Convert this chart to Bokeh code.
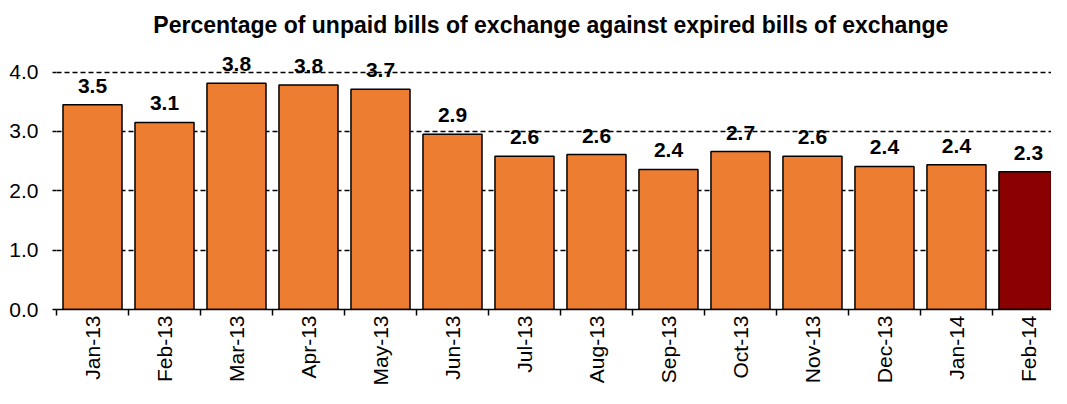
import math
from bokeh.plotting import figure
from bokeh.models import Range1d, FixedTicker, NumeralTickFormatter, ColumnDataSource
from bokeh.core.properties import value
from bokeh.embed import file_html
from bokeh.resources import INLINE

months = ["Jan-13", "Feb-13", "Mar-13", "Apr-13", "May-13", "Jun-13", "Jul-13",
          "Aug-13", "Sep-13", "Oct-13", "Nov-13", "Dec-13", "Jan-14", "Feb-14"]
values = [3.45, 3.15, 3.81, 3.78, 3.71, 2.95, 2.58, 2.61, 2.36, 2.66, 2.58, 2.41, 2.44, 2.32]
labels = ["3.5", "3.1", "3.8", "3.8", "3.7", "2.9", "2.6", "2.6", "2.4", "2.7", "2.6", "2.4", "2.4", "2.3"]
y_ticks = [0, 1, 2, 3, 4]

FONT = "Liberation Sans"
ORANGE = "#ED7D31"
DARKRED = "#8B0000"

xs = list(range(1, len(months) + 1))
colors = [ORANGE] * (len(months) - 1) + [DARKRED]
src = ColumnDataSource(dict(x=xs, top=values, label=labels, color=colors))

p = figure(width=1051, height=388, x_range=Range1d(0.5, 14.32), y_range=Range1d(0, 4.43),
           output_backend="svg", toolbar_location=None,
           min_border_left=56, min_border_right=0, min_border_top=0)
p.outline_line_color = None
p.background_fill_color = "white"

p.title.text = "Percentage of unpaid bills of  exchange against expired bills of exchange"
p.title.align = "center"
p.title.offset = -12
p.title.standoff = 18
p.title.text_font = FONT
p.title.text_font_size = "23px"
p.title.text_font_style = "bold"
p.title.text_color = "black"

# y axis
p.yaxis.ticker = FixedTicker(ticks=y_ticks)
p.yaxis.formatter = NumeralTickFormatter(format="0.0")
p.yaxis.axis_line_color = None
p.yaxis.major_tick_in = 0
p.yaxis.major_tick_out = 4
p.yaxis.major_tick_line_color = "black"
p.yaxis.major_tick_line_width = 1.5
p.yaxis.minor_tick_line_color = None
p.yaxis.major_label_text_font = FONT
p.yaxis.major_label_text_font_size = "21px"
p.yaxis.major_label_text_color = "black"
p.yaxis.major_label_standoff = 14

p.ygrid.ticker = FixedTicker(ticks=y_ticks[1:])
p.ygrid.grid_line_color = "black"
p.ygrid.grid_line_dash = "5 3"
p.ygrid.grid_line_width = 1.4
p.xgrid.grid_line_color = None

# x axis: month labels at centres, tick marks at category boundaries (minor ticks)
xa = p.xaxis[0]
xa.ticker = FixedTicker(ticks=xs, minor_ticks=[i + 0.5 for i in range(0, len(months) + 1)])
xa.major_label_overrides = {i: m for i, m in zip(xs, months)}
xa.major_tick_line_color = None
xa.major_tick_in = 0
xa.major_tick_out = 0
xa.minor_tick_line_color = "black"
xa.minor_tick_in = 0
xa.minor_tick_out = 6
xa.minor_tick_line_width = 1.5
xa.axis_line_color = "black"
xa.axis_line_width = 1.5
xa.major_label_orientation = math.pi / 2
xa.major_label_text_font = FONT
xa.major_label_text_font_size = "21px"
xa.major_label_text_color = "black"
xa.major_label_standoff = 0

p.vbar(x="x", top="top", width=0.82, source=src, fill_color="color",
       line_color="black", line_width=1.5)

p.text(x="x", y="top", text="label", source=src, y_offset=-12,
       text_align="center", text_baseline="bottom",
       text_font=value(FONT), text_font_size="21px", text_font_style="bold",
       text_color="black")

open("out.html", "w").write(file_html(p, INLINE))
